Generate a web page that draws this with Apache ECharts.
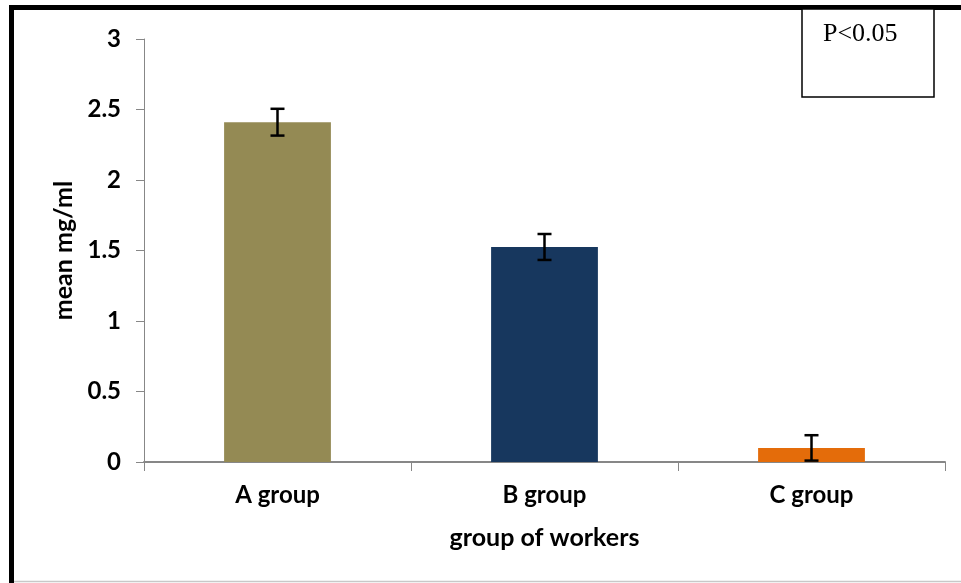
<!DOCTYPE html>
<html>
<head>
<meta charset="utf-8">
<script src="https://cdn.jsdelivr.net/npm/echarts@6/dist/echarts.min.js"></script>
<style>
  html, body { margin: 0; padding: 0; background: #fff; }
  #chart { width: 961px; height: 583px; }
</style>
</head>
<body>
<div id="chart"></div>
<script>
const categories = ['A group', 'B group', 'C group'];
const meanValues = [2.41, 1.525, 0.1];
const errorValues = [0.095, 0.092, 0.09];
const barColors = ['#948A54', '#17375E', '#E46C0A'];
const yTicks = [0, 0.5, 1, 1.5, 2, 2.5, 3];

const labelFont = {
  fontFamily: 'Lato',
  fontWeight: 'bold',
  fontSize: 24,
  color: '#000',
};

const nameFont = { ...labelFont, fontSize: 25 };

const chart = echarts.init(document.getElementById('chart'));

const errorData = categories.map((c, i) => [
  i,
  meanValues[i] - errorValues[i],
  meanValues[i] + errorValues[i],
]);

function renderErrorBar(params, api) {
  const low = api.coord([api.value(0), api.value(1)]);
  const high = api.coord([api.value(0), api.value(2)]);
  const half = 7;
  const style = { stroke: '#000', lineWidth: 2.5 };
  return {
    type: 'group',
    children: [
      { type: 'line', shape: { x1: high[0], y1: high[1], x2: low[0], y2: low[1] }, style },
      { type: 'line', shape: { x1: high[0] - half, y1: high[1], x2: high[0] + half, y2: high[1] }, style },
      { type: 'line', shape: { x1: low[0] - half, y1: low[1], x2: low[0] + half, y2: low[1] }, style },
    ],
  };
}

const option = {
  backgroundColor: '#fff',
  animation: false,
  grid: {
    left: 144,
    right: 16,
    top: 39,
    bottom: 121,
  },
  xAxis: {
    type: 'category',
    data: categories,
    name: 'group of workers',
    nameLocation: 'middle',
    nameGap: 63,
    nameTextStyle: nameFont,
    axisLine: { lineStyle: { color: '#878787', width: 2 } },
    axisTick: { show: true, length: 9, alignWithLabel: false, lineStyle: { color: '#878787' } },
    axisLabel: { margin: 21, ...labelFont },
  },
  yAxis: {
    type: 'value',
    min: 0,
    max: 3,
    interval: 0.5,
    name: 'mean mg/ml',
    nameLocation: 'middle',
    nameGap: 67,
    nameTextStyle: nameFont,
    axisLine: { show: true, lineStyle: { color: '#878787', width: 1 } },
    axisTick: { show: true, length: 8, lineStyle: { color: '#878787' } },
    splitLine: { show: false },
    axisLabel: {
      margin: 23,
      ...labelFont,
      formatter: v => (yTicks.includes(v) ? String(v) : ''),
    },
  },
  series: [
    {
      type: 'bar',
      barWidth: '40%',
      data: meanValues.map((v, i) => ({ value: v, itemStyle: { color: barColors[i] } })),
      z: 2,
    },
    {
      type: 'custom',
      renderItem: renderErrorBar,
      data: errorData,
      encode: { x: 0, y: [1, 2] },
      z: 3,
    },
  ],
  graphic: [
    // outer frame
    { type: 'rect', shape: { x: 9, y: 5, width: 5, height: 578 }, style: { fill: '#000' } },
    { type: 'rect', shape: { x: 9, y: 5, width: 952, height: 5 }, style: { fill: '#000' } },
    { type: 'line', shape: { x1: 14, y1: 581.5, x2: 961, y2: 581.5 }, style: { stroke: '#c8c8c8', lineWidth: 1.5 } },
    // p-value box
    { type: 'rect', shape: { x: 802, y: 9, width: 132, height: 88 }, style: { fill: '#fff', stroke: '#000', lineWidth: 1.5 } },
    {
      type: 'text',
      x: 823,
      y: 21,
      style: { text: 'P<0.05', font: '26px "Liberation Serif"', fill: '#000' },
    },
  ],
};

chart.setOption(option);
</script>
</body>
</html>
